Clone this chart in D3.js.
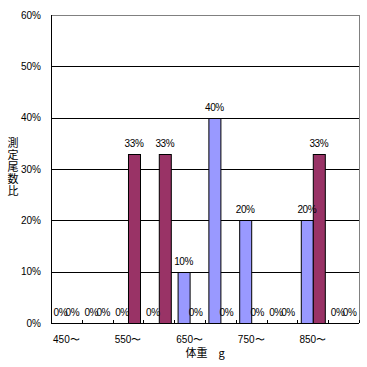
<!DOCTYPE html>
<html>
<head>
<meta charset="utf-8">
<script src="https://cdn.jsdelivr.net/npm/d3@7"></script>
<style>
  body { margin: 0; background: #fff; }
  text { font-family: "Liberation Sans", Arial, sans-serif; }
  .jp { font-family: "Noto Sans CJK JP", sans-serif; }
</style>
</head>
<body>
<div id="wrapper"></div>
<script>
// data
const categories = ["450〜", "500〜", "550〜", "600〜", "650〜", "700〜", "750〜", "800〜", "850〜", "900〜"]
const seriesNames = ["A", "B"]
const seriesA = [0, 0, 0, 0, 10, 40, 20, 0, 20, 0]
const seriesB = [0, 0, 33, 33, 0, 0, 0, 0, 33, 0]
const yTicks = [0, 10, 20, 30, 40, 50, 60]
const colors = ["#9999ff", "#993366"]

function drawBars() {
  const dimensions = {
    width: 367,
    height: 367,
    margin: { top: 15, right: 8, bottom: 44, left: 51 },
  }
  dimensions.boundedWidth = dimensions.width - dimensions.margin.left - dimensions.margin.right
  dimensions.boundedHeight = dimensions.height - dimensions.margin.top - dimensions.margin.bottom

  const wrapper = d3.select("#wrapper")
    .append("svg")
      .attr("width", dimensions.width)
      .attr("height", dimensions.height)

  const bounds = wrapper.append("g")
    .attr("transform", `translate(${dimensions.margin.left},${dimensions.margin.top})`)

  // scales
  const x0 = d3.scaleBand()
    .domain(categories)
    .range([0, dimensions.boundedWidth])
    .paddingInner(0.22)
    .paddingOuter(0.11)

  const x1 = d3.scaleBand()
    .domain(seriesNames)
    .range([0, x0.bandwidth()])

  const yScale = d3.scaleLinear()
    .domain([0, 60])
    .range([dimensions.boundedHeight, 0])

  // gridlines
  bounds.selectAll(".grid")
    .data(yTicks.slice(1))
    .enter().append("line")
      .attr("x1", 0)
      .attr("x2", dimensions.boundedWidth)
      .attr("y1", d => Math.round(yScale(d)) + 0.5)
      .attr("y2", d => Math.round(yScale(d)) + 0.5)
      .attr("stroke", d => d == 60 ? "#808080" : "#000")
      .attr("stroke-width", 1)

  // right border
  bounds.append("line")
    .attr("x1", dimensions.boundedWidth + 0.5)
    .attr("x2", dimensions.boundedWidth + 0.5)
    .attr("y1", 0)
    .attr("y2", dimensions.boundedHeight)
    .attr("stroke", "#808080")

  // bars
  const rows = categories.map((c, i) => ({ cat: c, values: [seriesA[i], seriesB[i]] }))

  const groups = bounds.selectAll(".group")
    .data(rows)
    .enter().append("g")
      .attr("transform", d => `translate(${x0(d.cat)},0)`)

  groups.selectAll("rect")
    .data(d => d.values.map((v, j) => ({ key: seriesNames[j], value: v, j })))
    .enter().filter(d => d.value > 0).append("rect")
      .attr("x", d => Math.round(x1(d.key)) + 0.5)
      .attr("y", d => Math.round(yScale(d.value)) + 0.5)
      .attr("width", x1.bandwidth())
      .attr("height", d => dimensions.boundedHeight - Math.round(yScale(d.value)))
      .attr("fill", d => colors[d.j])
      .attr("stroke", "#000")

  groups.selectAll(".label")
    .data(d => d.values.map((v, j) => ({ key: seriesNames[j], value: v })))
    .enter().append("text")
      .attr("x", d => x1(d.key) + x1.bandwidth() / 2)
      .attr("y", d => yScale(d.value) - 7)
      .attr("text-anchor", "middle")
      .attr("font-size", 10)
      .style("letter-spacing", "-0.4px")
      .text(d => d.value + "%")

  // x axis
  const xAxisGenerator = d3.axisBottom(x0)
    .tickSize(0)
    .tickPadding(13)
    .tickFormat((d, i) => i % 2 == 0 ? d : "")

  const xAxis = bounds.append("g")
    .attr("transform", `translate(0,${dimensions.boundedHeight})`)
    .call(xAxisGenerator)
  xAxis.select(".domain").remove()
  xAxis.selectAll("text")
    .attr("font-size", 10)
    .attr("fill", "#000")
    .attr("font-family", "Liberation Sans, sans-serif")

  // boundary ticks (inside)
  const edge = (x0.step() - x0.bandwidth()) / 2
  const boundaries = categories.map(c => x0(c) - edge).concat([dimensions.boundedWidth])
  bounds.selectAll(".xtick")
    .data(boundaries)
    .enter().append("line")
      .attr("x1", d => Math.round(d) + 0.5)
      .attr("x2", d => Math.round(d) + 0.5)
      .attr("y1", dimensions.boundedHeight - 3)
      .attr("y2", dimensions.boundedHeight)
      .attr("stroke", "#000")

  bounds.append("line")
    .attr("x1", 0)
    .attr("x2", dimensions.boundedWidth)
    .attr("y1", dimensions.boundedHeight + 0.5)
    .attr("y2", dimensions.boundedHeight + 0.5)
    .attr("stroke", "#000")

  // y axis
  const yAxisGenerator = d3.axisLeft(yScale)
    .tickValues(yTicks)
    .tickSize(0)
    .tickPadding(10)
    .tickFormat(d => d + "%")

  const yAxis = bounds.append("g")
    .call(yAxisGenerator)
  yAxis.select(".domain").remove()
  yAxis.selectAll("text")
    .attr("font-size", 10)
    .attr("fill", "#000")
    .attr("font-family", "Liberation Sans, sans-serif")

  bounds.append("line")
    .attr("x1", 0.5)
    .attr("x2", 0.5)
    .attr("y1", 0)
    .attr("y2", dimensions.boundedHeight + 1)
    .attr("stroke", "#000")

  // axis titles
  wrapper.append("text")
    .attr("class", "jp")
    .attr("x", dimensions.margin.left + dimensions.boundedWidth / 2)
    .attr("y", 357)
    .attr("text-anchor", "middle")
    .attr("font-size", 11)
    .text("体重　g")

  wrapper.append("text")
    .attr("class", "jp")
    .attr("x", 13)
    .attr("y", 167)
    .attr("text-anchor", "middle")
    .attr("font-size", 11)
    .style("writing-mode", "vertical-rl")
    .style("text-orientation", "upright")
    .style("letter-spacing", "1px")
    .text("測定尾数比")
}
drawBars()
</script>
</body>
</html>
